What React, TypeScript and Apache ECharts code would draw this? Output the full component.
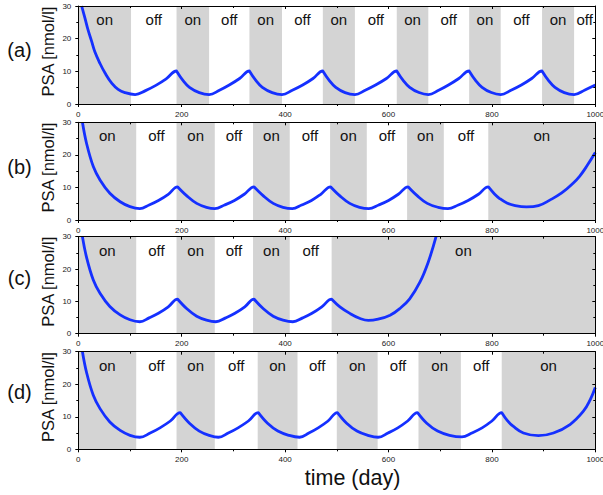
import React, { useEffect, useRef } from "react";
import * as echarts from "echarts";

// ---- data ----
const panelNames = ["(a)", "(b)", "(c)", "(d)"];
const xTickValues = [0, 200, 400, 600, 800, 1000];
const yTickValues = [0, 10, 20, 30];

// treatment "on" intervals (days); gaps are "off"
const onA = [[0, 102], [190, 253], [331, 394], [473, 535], [616, 677], [756, 817], [897, 959]];
const onB = [[0, 112], [190, 264], [338, 409], [487, 558], [636, 707], [793, 1000]];
const onC = [[0, 112], [190, 264], [338, 409], [490, 1000]];
const onD = [[0, 112], [190, 264], [347, 424], [500, 579], [658, 740], [819, 1000]];

// PSA [nmol/l] vs time (day)
const psaA = [
  [6.5, 30], [13, 26.2], [19, 22.6], [26, 19.1], [32, 16], [42, 12.4], [52, 9.4], [65, 6.3], [77, 4.5], [90, 3.5], [110, 2.9],
  [130, 4.1], [150, 5.7], [170, 7.7], [190, 10.1],
  [202, 7.3], [215, 5.1], [234, 3.5], [253, 2.9],
  [273, 4.2], [292, 5.8], [312, 7.8], [331, 10.1],
  [343, 7.3], [356, 5.1], [375, 3.5], [394, 2.9],
  [414, 4.2], [434, 5.8], [454, 7.8], [473, 10.1],
  [485, 7.3], [498, 5.1], [516, 3.5], [535, 2.9],
  [555, 4.2], [575, 5.8], [596, 7.8], [616, 10.1],
  [628, 7.3], [641, 5.1], [659, 3.5], [677, 2.9],
  [697, 4.2], [716, 5.8], [736, 7.8], [756, 10.1],
  [768, 7.3], [781, 5.1], [799, 3.5], [817, 2.9],
  [837, 4.2], [857, 5.8], [877, 7.8], [897, 10.1],
  [909, 7.3], [922, 5.1], [940, 3.5], [959, 2.9],
  [980, 4.3], [1000, 5.8],
];
const psaB = [
  [8, 30], [16, 23.5], [29, 16.4], [42, 12.3], [61, 8.2], [81, 5.6], [100, 4.1], [119, 3.5],
  [137, 4.6], [155, 6.0], [174, 7.9], [192, 10.2],
  [210, 7.4], [229, 5.1], [248, 3.9], [264, 3.5],
  [283, 4.6], [302, 6.0], [321, 7.9], [340, 10.2],
  [358, 7.4], [377, 5.1], [396, 3.9], [414, 3.5],
  [432, 4.6], [451, 6.0], [469, 7.9], [488, 10.2],
  [506, 7.4], [525, 5.1], [544, 3.9], [562, 3.5],
  [581, 4.6], [600, 6.0], [619, 7.9], [638, 10.2],
  [656, 7.4], [675, 5.1], [696, 3.9], [715, 3.5],
  [735, 4.6], [754, 6.0], [774, 7.9], [793, 10.2],
  [805, 8.0], [815, 6.6], [829, 5.2], [845, 4.4], [867, 4.0], [890, 4.4], [912, 6.1], [935, 8.3],
  [957, 11.3], [970, 13.5], [983, 16.4], [1000, 20.7],
];
const psaC = [
  [8, 30], [16, 23.6], [29, 16.6], [42, 12.5], [61, 8.4], [81, 5.8], [100, 4.3], [119, 3.7],
  [137, 4.9], [155, 6.3], [174, 8.3], [192, 10.7],
  [210, 7.7], [229, 5.4], [248, 4.2], [266, 3.7],
  [285, 4.9], [303, 6.3], [322, 8.3], [340, 10.7],
  [358, 7.7], [377, 5.4], [396, 4.2], [415, 3.7],
  [434, 4.9], [452, 6.3], [471, 8.3], [490, 10.7],
  [506, 8.3], [526, 6.2], [545, 4.7], [561, 4.1], [580, 4.5], [603, 5.7], [622, 7.8], [641, 10.8],
  [661, 16], [677, 22.2], [692, 30],
];
const psaD = [
  [8, 30], [16, 23.6], [29, 16.6], [42, 12.5], [61, 8.4], [81, 5.8], [100, 4.3], [119, 3.7],
  [139, 5.0], [158, 6.6], [178, 8.7], [197, 11.3],
  [215, 8.0], [234, 5.6], [253, 4.3], [271, 3.7],
  [290, 5.0], [309, 6.6], [329, 8.7], [348, 11.3],
  [366, 8.0], [386, 5.6], [407, 4.3], [428, 3.7],
  [446, 5.0], [464, 6.6], [483, 8.7], [501, 11.3],
  [519, 8.0], [539, 5.6], [560, 4.3], [580, 3.7],
  [599, 5.0], [618, 6.6], [637, 8.7], [656, 11.3],
  [674, 8.0], [695, 5.6], [718, 4.3], [742, 3.8],
  [761, 5.0], [781, 6.6], [800, 8.7], [819, 11.3],
  [830, 8.8], [841, 7.1], [861, 5.0], [890, 4.2], [919, 5.0], [951, 7.6], [977, 11.7], [990, 15.2], [1000, 19.0],
];

const onSets = [onA, onB, onC, onD];
const psaSets = [psaA, psaB, psaC, psaD];

// ---- layout / style ----
const W = 603;
const H = 495;
const FONT = "'Liberation Sans', Arial, Helvetica, sans-serif";
const GRAY = "#d4d4d4";
const BLUE = "#1530ff";
const tops = [6, 122.3, 236.7, 351.7];
const heights = [98, 97.7, 97, 97.6];
const LEFT = 78.3;
const RIGHT = 7.7;
const labelY = [50, 167, 277.5, 392];

function withCorners(pts: number[][]) {
  const out: number[][] = [];
  pts.forEach((p, i) => {
    out.push(p);
    const prev = pts[i - 1];
    const next = pts[i + 1];
    if (prev && next && p[1] > prev[1] && p[1] > next[1]) out.push([p[0] + 0.05, p[1]]);
  });
  return out;
}

function regions(on: number[][]) {
  const list: any[] = [];
  let cursor = 0;
  on.forEach(([s, e]) => {
    if (s > cursor) list.push([{ xAxis: cursor, name: "off", itemStyle: { color: "rgba(0,0,0,0)" } }, { xAxis: s }]);
    list.push([{ xAxis: s, name: "on", itemStyle: { color: GRAY } }, { xAxis: e }]);
    cursor = e;
  });
  if (cursor < 1000) list.push([{ xAxis: cursor, name: "off", itemStyle: { color: "rgba(0,0,0,0)" } }, { xAxis: 1000 }]);
  return list;
}

export default function App() {
  const ref = useRef<HTMLDivElement>(null);
  useEffect(() => {
    if (!ref.current) return;
    const chart = echarts.init(ref.current, null, { renderer: "svg", width: W, height: H });
    const grid: any[] = [];
    const xAxis: any[] = [];
    const yAxis: any[] = [];
    const series: any[] = [];
    const graphic: any[] = [];
    const axisLine = { show: true, onZero: false, lineStyle: { color: "#000", width: 1 } };
    const plain = (v: number) => String(v);
    for (let i = 0; i < 4; i++) {
      grid.push({
        left: LEFT, right: RIGHT, top: tops[i], height: heights[i],
        containLabel: false, outerBoundsMode: "none",
      });
      const xBase = {
        gridIndex: i, type: "value", min: xTickValues[0], max: xTickValues[xTickValues.length - 1],
        interval: xTickValues[1] - xTickValues[0], splitLine: { show: false }, axisLine, z: 10,
      };
      xAxis.push({
        ...xBase, position: "bottom",
        axisTick: { show: true, length: 3, lineStyle: { color: "#000" } },
        minorTick: { show: true, splitNumber: 2, length: 2, lineStyle: { color: "#000" } },
        axisLabel: { show: true, fontSize: 8, margin: 6, color: "#222", fontFamily: FONT, formatter: plain },
      });
      xAxis.push({
        ...xBase, position: "top",
        axisTick: { show: true, inside: true, length: 3, lineStyle: { color: "#000" } },
        minorTick: { show: true, splitNumber: 2, length: 2, lineStyle: { color: "#000" } },
        axisLabel: { show: false },
      });
      const yBase = {
        gridIndex: i, type: "value", min: yTickValues[0], max: yTickValues[yTickValues.length - 1],
        interval: yTickValues[1] - yTickValues[0], splitLine: { show: false }, axisLine, z: 10,
      };
      yAxis.push({
        ...yBase, position: "left",
        axisTick: { show: true, length: 3, lineStyle: { color: "#000" } },
        minorTick: { show: true, splitNumber: 2, length: 2, lineStyle: { color: "#000" } },
        axisLabel: { show: true, fontSize: 8, margin: 7, color: "#222", fontFamily: FONT, formatter: plain },
      });
      yAxis.push({
        ...yBase, position: "right",
        axisTick: { show: true, inside: true, length: 3, lineStyle: { color: "#000" } },
        minorTick: { show: true, splitNumber: 2, length: 2, lineStyle: { color: "#000" } },
        axisLabel: { show: false },
      });
      series.push({
        type: "line",
        xAxisIndex: 2 * i,
        yAxisIndex: 2 * i,
        data: withCorners(psaSets[i]),
        smooth: 0.4,
        symbol: "none",
        showSymbol: false,
        clip: true,
        lineStyle: { color: BLUE, width: 2.8 },
        markArea: {
          silent: true,
          label: {
            show: true, position: "insideTop", distance: 6, fontSize: 15, color: "#111", fontFamily: FONT,
            formatter: "{b}",
          },
          data: regions(onSets[i]),
        },
      });
      const cy = tops[i] + heights[i] / 2 - 3.5;
      graphic.push({
        type: "text", x: 47.5, y: cy, rotation: Math.PI / 2,
        style: {
          text: "PSA [nmol/l]", fontSize: 16.5, fontFamily: FONT, fill: "#111",
          align: "center", verticalAlign: "middle", textAlign: "center", textVerticalAlign: "middle",
        },
      });
      graphic.push({
        type: "text", x: 19.5, y: labelY[i],
        style: {
          text: panelNames[i], fontSize: 20, fontFamily: FONT, fill: "#111",
          align: "center", verticalAlign: "middle", textAlign: "center", textVerticalAlign: "middle",
        },
      });
    }
    graphic.push({
      type: "text", x: 352.5, y: 478,
      style: {
        text: "time (day)", fontSize: 21.5, fontFamily: FONT, fill: "#111",
        align: "center", verticalAlign: "middle", textAlign: "center", textVerticalAlign: "middle",
      },
    });
    chart.setOption({
      animation: false,
      backgroundColor: "#fff",
      textStyle: { fontFamily: FONT },
      grid,
      xAxis,
      yAxis,
      series,
      graphic,
    });
    return () => chart.dispose();
  }, []);
  return (
    <div
      ref={ref}
      style={{ position: "absolute", left: 0, top: 0, width: W, height: H }}
    />
  );
}
